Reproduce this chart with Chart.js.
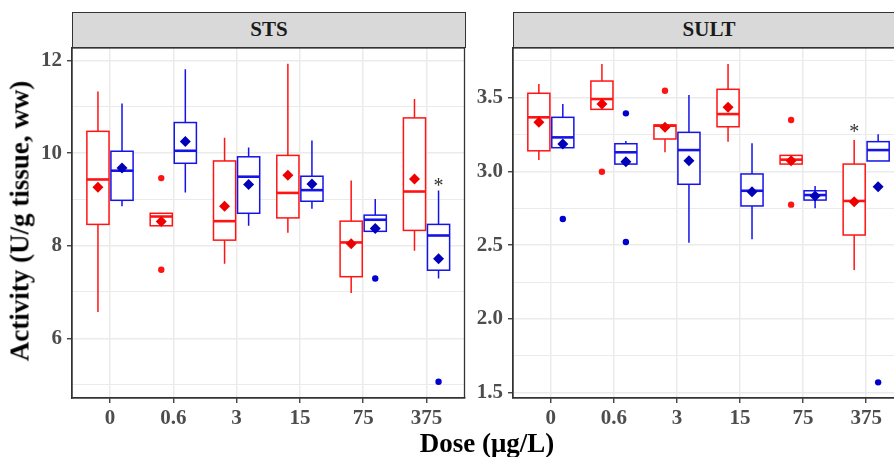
<!DOCTYPE html>
<html>
<head>
<meta charset="utf-8">
<script src="https://cdn.jsdelivr.net/npm/chart.js@4.4.0/dist/chart.umd.min.js"></script>
<style>
  html, body { margin: 0; padding: 0; background: #fff; overflow: hidden; }
  #wrap { position: relative; width: 894px; height: 457px; overflow: hidden; font-family: 'Liberation Serif', 'Times New Roman', serif; }
  canvas { position: absolute; top: 0; }
  #stsCanvas { left: 0; }
  #sultCanvas { left: 470px; }
  .strip { position: absolute; top: 12px; height: 36px; box-sizing: border-box; background: #d9d9d9; border: 1.3px solid #333; text-align: center; font-weight: bold; font-size: 21px; line-height: 33px; color: #1a1a1a; }
  .title { position: absolute; font-weight: bold; font-size: 27px; line-height: 27px; color: #000; white-space: nowrap; }
  #xTitle { left: 487px; top: 430px; transform: translateX(-50%); }
  #yTitle { left: 20px; top: 221px; transform: translate(-50%, -50%) rotate(-90deg); }
</style>
</head>
<body>
<div id="wrap">
  <canvas id="stsCanvas" width="470" height="457"></canvas>
  <canvas id="sultCanvas" width="440" height="457"></canvas>
  <div class="strip" style="left:72px;width:394px;">STS</div>
  <div class="strip" style="left:513px;width:392px;">SULT</div>
  <div class="title" id="xTitle">Dose (μg/L)</div>
  <div class="title" id="yTitle">Activity (U/g tissue, ww)</div>
</div>
<script>
// dose groups on the x axis
const doses = ['0', '0.6', '3', '15', '75', '375'];

// STS, red group (lower whisker, Q1, median, Q3, upper whisker, mean, outliers)
const stsRedLow  = [6.57, 8.43, 7.61, 8.28, 6.98, 7.89];
const stsRedQ1   = [8.46, 8.43, 8.12, 8.60, 7.33, 8.33];
const stsRedMed  = [9.43, 8.63, 8.53, 9.14, 8.07, 9.17];
const stsRedQ3   = [10.47, 8.70, 9.83, 9.95, 8.53, 10.76];
const stsRedHigh = [11.33, 8.70, 10.33, 11.93, 9.41, 11.17];
const stsRedMean = [9.26, 8.52, 8.85, 9.52, 8.04, 9.44];
const stsRedOut  = [[], [9.46, 7.48], [], [], [], []];

// STS, blue group
const stsBlueLow  = [8.85, 9.15, 8.43, 8.80, 8.31, 7.29];
const stsBlueQ1   = [8.98, 9.78, 8.70, 8.96, 8.31, 7.47];
const stsBlueMed  = [9.62, 10.05, 9.49, 9.20, 8.56, 8.22];
const stsBlueQ3   = [10.04, 10.66, 9.92, 9.50, 8.66, 8.46];
const stsBlueHigh = [11.07, 11.81, 10.12, 10.27, 9.01, 9.19];
const stsBlueMean = [9.68, 10.25, 9.32, 9.33, 8.37, 7.72];
const stsBlueOut  = [[], [], [], [], [7.29], [5.06]];

// SULT, red group
const sultRedLow  = [3.078, 3.421, 3.13, 3.202, 3.05, 2.332];
const sultRedQ1   = [3.14, 3.421, 3.22, 3.303, 3.05, 2.569];
const sultRedMed  = [3.367, 3.491, 3.31, 3.389, 3.08, 2.80];
const sultRedQ3   = [3.53, 3.613, 3.315, 3.557, 3.109, 3.05];
const sultRedHigh = [3.593, 3.728, 3.315, 3.728, 3.109, 3.213];
const sultRedMean = [3.333, 3.457, 3.30, 3.435, 3.073, 2.795];
const sultRedOut  = [[], [2.998], [3.547], [], [3.349, 2.775], []];

// SULT, blue group
const sultBlueLow  = [3.161, 3.05, 2.517, 2.54, 2.75, 3.071];
const sultBlueQ1   = [3.161, 3.05, 2.913, 2.766, 2.806, 3.071];
const sultBlueMed  = [3.231, 3.13, 3.145, 2.869, 2.84, 3.145];
const sultBlueQ3   = [3.367, 3.188, 3.265, 2.983, 2.869, 3.202];
const sultBlueHigh = [3.457, 3.206, 3.518, 3.191, 2.901, 3.252];
const sultBlueMean = [3.186, 3.066, 3.073, 2.863, 2.834, 2.897];
const sultBlueOut  = [[2.678], [3.394, 2.522], [], [], [], [1.57]];

// significance marks: dose, group, height
const stsStars  = [{ dose: '375', group: 'blue', y: 9.37 }];
const sultStars = [{ dose: '375', group: 'red', y: 3.29 }];

// axis ticks
const stsTicks  = [6, 8, 10, 12];
const stsMinor  = [5, 7, 9, 11];
const sultTicks = [1.5, 2.0, 2.5, 3.0, 3.5];
const sultMinor = [1.75, 2.25, 2.75, 3.25, 3.75];

const RED = '#ff1414', BLUE = '#1414e6';
const RED_PT = '#ee0000', BLUE_PT = '#0000b8';
const dodge = 0.19, halfBox = 0.175;
const shiftOf = { red: -dodge, blue: dodge };
const tickFont = { family: "'Liberation Serif', serif", size: 21, weight: 'bold' };

function boxPlugin(groups, stars) {
  return {
    id: 'boxes',
    beforeDatasetsDraw(chart) {
      const { ctx, scales: { x, y } } = chart;
      ctx.save();
      groups.forEach(g => {
        g.med.forEach((m, i) => {
          const c = i + 1 + g.shift;
          const xl = x.getPixelForValue(c - halfBox);
          const xr = x.getPixelForValue(c + halfBox);
          const xc = x.getPixelForValue(c);
          const yLo = y.getPixelForValue(g.low[i]);
          const yQ1 = y.getPixelForValue(g.q1[i]);
          const yMed = y.getPixelForValue(m);
          const yQ3 = y.getPixelForValue(g.q3[i]);
          const yHi = y.getPixelForValue(g.high[i]);
          ctx.strokeStyle = g.color;
          ctx.lineWidth = 1.5;
          ctx.beginPath();
          ctx.moveTo(xc, yQ3); ctx.lineTo(xc, yHi);
          ctx.moveTo(xc, yQ1); ctx.lineTo(xc, yLo);
          ctx.stroke();
          ctx.fillStyle = '#fff';
          ctx.fillRect(xl, yQ3, xr - xl, yQ1 - yQ3);
          ctx.strokeRect(xl, yQ3, xr - xl, yQ1 - yQ3);
          ctx.lineWidth = 2.6;
          ctx.beginPath();
          ctx.moveTo(xl, yMed); ctx.lineTo(xr, yMed);
          ctx.stroke();
        });
      });
      ctx.restore();
    },
    afterDatasetsDraw(chart) {
      const { ctx, scales: { x, y } } = chart;
      ctx.save();
      ctx.fillStyle = '#333';
      ctx.font = "20px 'Liberation Serif', serif";
      ctx.textAlign = 'center';
      ctx.textBaseline = 'middle';
      stars.forEach(s => {
        const px = x.getPixelForValue(doses.indexOf(s.dose) + 1 + shiftOf[s.group]);
        ctx.fillText('*', px, y.getPixelForValue(s.y) + 4);
      });
      ctx.restore();
    },
    afterDraw(chart) {
      const { ctx, chartArea: a } = chart;
      ctx.save();
      ctx.strokeStyle = '#333';
      ctx.lineWidth = 1.3;
      ctx.strokeRect(a.left, a.top, a.right - a.left, a.bottom - a.top);
      ctx.restore();
    }
  };
}

function meanSet(vals, group, color) {
  return {
    data: vals.map((v, i) => ({ x: i + 1 + shiftOf[group], y: v })),
    pointStyle: 'rectRot', pointRadius: 5.5, backgroundColor: color, borderColor: color, borderWidth: 0
  };
}

function outSet(lists, group, color) {
  return {
    data: lists.flatMap((l, i) => l.map(v => ({ x: i + 1 + shiftOf[group], y: v }))),
    pointStyle: 'circle', pointRadius: 3.2, backgroundColor: color, borderColor: color, borderWidth: 0
  };
}

function makePanel(canvasId, p) {
  const allTicks = [...p.minor, ...p.major].sort((a, b) => a - b);
  const isMajor = v => p.major.includes(v);
  new Chart(document.getElementById(canvasId), {
    type: 'scatter',
    data: {
      datasets: [
        meanSet(p.red.mean, 'red', RED_PT),
        meanSet(p.blue.mean, 'blue', BLUE_PT),
        outSet(p.red.out, 'red', RED),
        outSet(p.blue.out, 'blue', '#0000d0')
      ]
    },
    options: {
      responsive: false,
      animation: false,
      events: [],
      layout: { padding: { top: 48, right: p.rightPad, left: 0, bottom: 0 } },
      plugins: { legend: { display: false }, tooltip: { enabled: false } },
      scales: {
        x: {
          type: 'linear', min: 0.4, max: 6.6,
          afterBuildTicks: s => { s.ticks = doses.map((d, i) => ({ value: i + 1 })); },
          afterFit: s => { s.height = 59; },
          ticks: { callback: v => doses[v - 1], font: tickFont, color: '#4d4d4d', padding: 3, maxRotation: 0 },
          grid: { color: '#ebebeb', lineWidth: 1.5, tickColor: '#333', tickLength: 5, tickWidth: 1.3 },
          border: { color: '#333', width: 1.3 }
        },
        y: {
          type: 'linear', min: p.min, max: p.max,
          afterBuildTicks: s => { s.ticks = allTicks.map(v => ({ value: v })); },
          afterFit: s => { s.width = p.yWidth; },
          ticks: { callback: v => isMajor(v) ? p.fmt(v) : '', font: tickFont, color: '#4d4d4d', padding: 5 },
          grid: {
            color: '#ebebeb',
            lineWidth: c => (c.tick && isMajor(c.tick.value)) ? 1.5 : 1,
            tickColor: c => (c.tick && isMajor(c.tick.value)) ? '#333' : 'rgba(0,0,0,0)',
            tickLength: 5, tickWidth: 1.3
          },
          border: { color: '#333', width: 1.3 }
        }
      }
    },
    plugins: [boxPlugin([
      { shift: shiftOf.red, color: RED, low: p.red.low, q1: p.red.q1, med: p.red.med, q3: p.red.q3, high: p.red.high },
      { shift: shiftOf.blue, color: BLUE, low: p.blue.low, q1: p.blue.q1, med: p.blue.med, q3: p.blue.q3, high: p.blue.high }
    ], p.stars)]
  });
}

makePanel('stsCanvas', {
  min: 4.71, max: 12.27, major: stsTicks, minor: stsMinor, fmt: v => String(v),
  yWidth: 72, rightPad: 5, stars: stsStars,
  red: { low: stsRedLow, q1: stsRedQ1, med: stsRedMed, q3: stsRedQ3, high: stsRedHigh, mean: stsRedMean, out: stsRedOut },
  blue: { low: stsBlueLow, q1: stsBlueQ1, med: stsBlueMed, q3: stsBlueQ3, high: stsBlueHigh, mean: stsBlueMean, out: stsBlueOut }
});

makePanel('sultCanvas', {
  min: 1.464, max: 3.837, major: sultTicks, minor: sultMinor, fmt: v => v.toFixed(1),
  yWidth: 43, rightPad: 6, stars: sultStars,
  red: { low: sultRedLow, q1: sultRedQ1, med: sultRedMed, q3: sultRedQ3, high: sultRedHigh, mean: sultRedMean, out: sultRedOut },
  blue: { low: sultBlueLow, q1: sultBlueQ1, med: sultBlueMed, q3: sultBlueQ3, high: sultBlueHigh, mean: sultBlueMean, out: sultBlueOut }
});
</script>
</body>
</html>
